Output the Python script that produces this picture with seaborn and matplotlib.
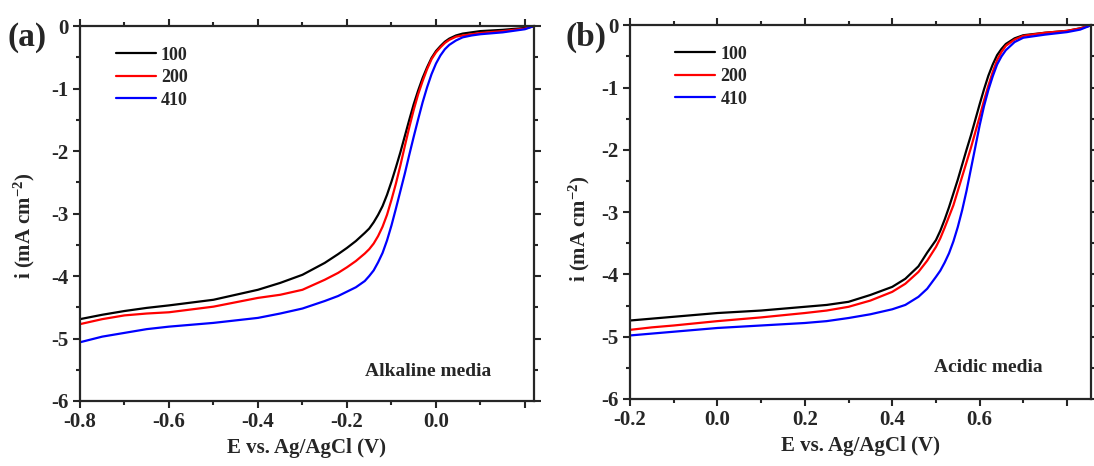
import matplotlib
matplotlib.use("Agg")
import matplotlib.pyplot as plt
import numpy as np
import pandas as pd
import seaborn as sns
from matplotlib.ticker import FuncFormatter, FormatStrFormatter, MultipleLocator

# alkaline media (panel a)
e_alk = [-0.8, -0.75, -0.7, -0.65, -0.6, -0.5, -0.4, -0.35, -0.3, -0.25, -0.22, -0.2,
         -0.18, -0.16, -0.15, -0.14, -0.13, -0.12, -0.11, -0.10, -0.09, -0.08, -0.07,
         -0.06, -0.05, -0.04, -0.03, -0.02, -0.01, 0.0, 0.01, 0.02, 0.03, 0.045, 0.06,
         0.08, 0.1, 0.15, 0.2, 0.22]
alk_100 = [-4.69, -4.62, -4.56, -4.51, -4.47, -4.38, -4.22, -4.11, -3.98, -3.79, -3.65, -3.55,
           -3.44, -3.31, -3.24, -3.14, -3.02, -2.88, -2.70, -2.49, -2.26, -2.02, -1.76,
           -1.50, -1.25, -1.03, -0.83, -0.66, -0.51, -0.40, -0.32, -0.25, -0.20, -0.15, -0.12,
           -0.10, -0.08, -0.06, -0.03, 0.0]
alk_200 = [-4.77, -4.69, -4.63, -4.60, -4.58, -4.49, -4.35, -4.30, -4.22, -4.06, -3.95, -3.86,
           -3.76, -3.64, -3.57, -3.48, -3.36, -3.21, -3.02, -2.78, -2.52, -2.23, -1.92,
           -1.62, -1.34, -1.09, -0.88, -0.69, -0.53, -0.42, -0.34, -0.27, -0.22, -0.17, -0.15,
           -0.13, -0.11, -0.08, -0.04, 0.0]
alk_410 = [-5.06, -4.97, -4.91, -4.85, -4.81, -4.75, -4.67, -4.60, -4.52, -4.40, -4.32, -4.25,
           -4.18, -4.08, -4.00, -3.91, -3.78, -3.63, -3.43, -3.19, -2.92, -2.64, -2.36,
           -2.06, -1.77, -1.49, -1.22, -0.98, -0.77, -0.60, -0.47, -0.37, -0.30, -0.23, -0.18,
           -0.15, -0.13, -0.10, -0.05, 0.0]

# acidic media (panel b)
e_acid = [-0.2, -0.15, -0.1, 0.0, 0.1, 0.2, 0.25, 0.3, 0.35, 0.40, 0.43, 0.46, 0.48, 0.50,
          0.51, 0.52, 0.53, 0.54, 0.55, 0.56, 0.57, 0.58, 0.59, 0.60, 0.61, 0.62, 0.63,
          0.64, 0.65, 0.66, 0.68, 0.70, 0.75, 0.80, 0.83, 0.855]
acid_100 = [-4.74, -4.71, -4.68, -4.62, -4.58, -4.52, -4.49, -4.44, -4.33, -4.20, -4.07, -3.87,
            -3.65, -3.45, -3.30, -3.12, -2.92, -2.70, -2.48, -2.24, -2.00, -1.77, -1.52,
            -1.27, -1.03, -0.81, -0.63, -0.48, -0.38, -0.30, -0.21, -0.16, -0.12, -0.09,
            -0.05, 0.0]
acid_200 = [-4.89, -4.85, -4.82, -4.75, -4.69, -4.62, -4.58, -4.52, -4.42, -4.28, -4.15, -3.96,
            -3.78, -3.56, -3.42, -3.25, -3.07, -2.89, -2.66, -2.43, -2.20, -1.97, -1.72,
            -1.47, -1.21, -0.97, -0.75, -0.56, -0.43, -0.33, -0.23, -0.17, -0.12, -0.09,
            -0.05, 0.0]
acid_410 = [-4.98, -4.95, -4.92, -4.86, -4.82, -4.78, -4.75, -4.70, -4.64, -4.56, -4.49, -4.36,
            -4.23, -4.04, -3.94, -3.81, -3.66, -3.47, -3.24, -2.97, -2.66, -2.31, -1.96,
            -1.61, -1.30, -1.04, -0.82, -0.63, -0.50, -0.40, -0.27, -0.20, -0.15, -0.11,
            -0.07, 0.0]

labels = ["100", "200", "410"]
colors = ["black", "#ff0000", "#0000ff"]

sns.set_style("ticks")
plt.rcParams["font.family"] = ["Liberation Serif", "DejaVu Serif"]
plt.rcParams["font.weight"] = "bold"
plt.rcParams["axes.unicode_minus"] = False
plt.rcParams["mathtext.fontset"] = "custom"
plt.rcParams["mathtext.rm"] = "Liberation Serif:bold"
plt.rcParams["mathtext.default"] = "rm"


def xfmt(last):
    # label only up to the last labelled tick
    return FuncFormatter(lambda v, pos: "%.1f" % v if v < last + 1e-6 else "")


fig = plt.figure(figsize=(10.94, 4.66), dpi=100)
ax1 = fig.add_axes([0.0731, 0.1395, 0.4149, 0.8045])
ax2 = fig.add_axes([0.5759, 0.1438, 0.4214, 0.8020])

panels = [
    (ax1, e_alk, [alk_100, alk_200, alk_410], (-0.8, 0.22), 0.0, "Alkaline media",
     0.907, 0.080, 0.079, (-0.095, 0.467)),
    (ax2, e_acid, [acid_100, acid_200, acid_410], (-0.2, 0.855), 0.6, "Acidic media",
     0.896, 0.083, 0.098, (-0.082, 0.457)),
]

for ax, e, series, xlim, last, note, nx, ny, lx, ylc in panels:
    for vals, lab, col in zip(series, labels, colors):
        df = pd.DataFrame({"E": e, "i": vals})
        sns.lineplot(data=df, x="E", y="i", color=col, label=lab, ax=ax,
                     sort=False, estimator=None, linewidth=1.6)
    ax.set_xlim(*xlim)
    ax.set_ylim(-6, 0)
    ax.xaxis.set_major_locator(MultipleLocator(0.2))
    ax.xaxis.set_minor_locator(MultipleLocator(0.1))
    ax.yaxis.set_major_locator(MultipleLocator(1))
    ax.yaxis.set_minor_locator(MultipleLocator(0.5))
    ax.xaxis.set_major_formatter(xfmt(last))
    ax.yaxis.set_major_formatter(FormatStrFormatter("%d"))
    ax.tick_params(which="both", top=True, right=True, width=1.5, labelsize=15, pad=3)
    ax.tick_params(which="major", length=5)
    ax.tick_params(which="minor", length=3)
    for sp in ax.spines.values():
        sp.set_linewidth(1.6)
    ax.set_xlabel("E vs. Ag/AgCl (V)", fontsize=15, fontweight="bold", labelpad=4)
    ax.set_ylabel("i (mA cm$^{-2}$)", fontsize=15, fontweight="bold")
    ax.yaxis.set_label_coords(*ylc)
    ax.legend(loc="upper left", bbox_to_anchor=(lx, 0.945), frameon=False,
              fontsize=13, handlelength=2.2, handletextpad=0.3, labelspacing=0.3,
              borderpad=0, borderaxespad=0)
    ax.text(nx, ny, note, transform=ax.transAxes, ha="right", va="center",
            fontsize=14, fontweight="bold")

fig.text(0.025, 0.92, "(a)", fontsize=24, fontweight="bold", ha="center", va="center")
fig.text(0.536, 0.92, "(b)", fontsize=24, fontweight="bold", ha="center", va="center")

fig.savefig("out.png", dpi=100)
